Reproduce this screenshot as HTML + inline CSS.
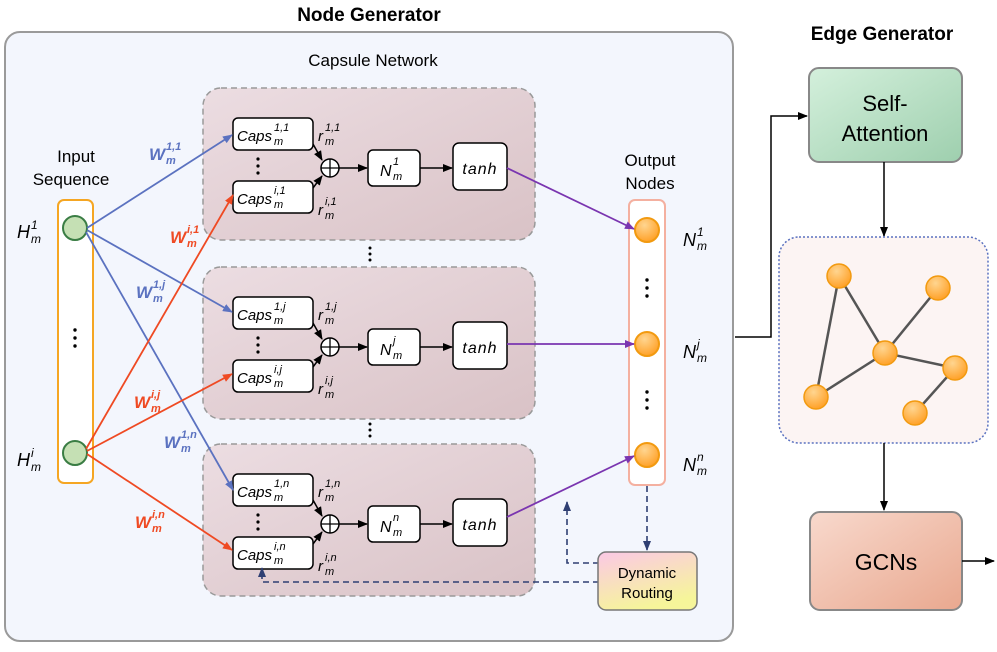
<!DOCTYPE html>
<html><head><meta charset="utf-8"><style>
body{margin:0;background:#fff}
svg text{font-family:"Liberation Sans",sans-serif}
.it{font-style:italic}
</style></head><body>
<svg width="997" height="647" viewBox="0 0 997 647" xmlns="http://www.w3.org/2000/svg">
<defs>
<linearGradient id="cg" x1="0" y1="0" x2="1" y2="1"><stop offset="0" stop-color="#ecdde2"/><stop offset="1" stop-color="#d9c2c6"/></linearGradient>
<linearGradient id="sa" x1="0" y1="0" x2="1" y2="1"><stop offset="0" stop-color="#d4f0dc"/><stop offset="1" stop-color="#9ecfae"/></linearGradient>
<linearGradient id="gc" x1="0" y1="0" x2="1" y2="1"><stop offset="0" stop-color="#f8d9cd"/><stop offset="1" stop-color="#e9a88f"/></linearGradient>
<linearGradient id="dr" x1="0" y1="0" x2="0.4" y2="1"><stop offset="0" stop-color="#fbc8e6"/><stop offset="1" stop-color="#f6f59a"/></linearGradient>
<radialGradient id="og" cx="0.4" cy="0.3" r="0.8"><stop offset="0" stop-color="#ffd590"/><stop offset="1" stop-color="#ff9a1a"/></radialGradient>
<marker id="ak" markerWidth="10" markerHeight="8" refX="9" refY="4" orient="auto" markerUnits="userSpaceOnUse"><path d="M0,0 L10,4 L0,8z" fill="#000"/></marker>
<marker id="ab" markerWidth="10" markerHeight="8" refX="9" refY="4" orient="auto" markerUnits="userSpaceOnUse"><path d="M0,0 L10,4 L0,8z" fill="#5b72c0"/></marker>
<marker id="ar" markerWidth="10" markerHeight="8" refX="9" refY="4" orient="auto" markerUnits="userSpaceOnUse"><path d="M0,0 L10,4 L0,8z" fill="#ef4a23"/></marker>
<marker id="ap" markerWidth="10" markerHeight="8" refX="9" refY="4" orient="auto" markerUnits="userSpaceOnUse"><path d="M0,0 L10,4 L0,8z" fill="#7a35b0"/></marker>
<marker id="ad" markerWidth="10" markerHeight="8" refX="9" refY="4" orient="auto" markerUnits="userSpaceOnUse"><path d="M0,0 L10,4 L0,8z" fill="#2f3f73"/></marker>
</defs>

<text x="369" y="21" font-size="19" font-weight="bold" text-anchor="middle">Node Generator</text>
<rect x="5" y="32" width="728" height="609" rx="15" fill="#f3f6fd" stroke="#9a9a9a" stroke-width="2"/>
<text x="373" y="66" font-size="17" text-anchor="middle">Capsule Network</text>

<g id="g1">
<rect x="203" y="88" width="332" height="152" rx="18" fill="url(#cg)" stroke="#999" stroke-width="1.5" stroke-dasharray="6,4"/>
<rect x="233" y="118" width="80" height="32" rx="5" fill="#fff" stroke="#000" stroke-width="1.5"/>
<rect x="233" y="181" width="80" height="32" rx="5" fill="#fff" stroke="#000" stroke-width="1.5"/>
<circle cx="258" cy="159" r="1.6"/><circle cx="258" cy="166" r="1.6"/><circle cx="258" cy="173" r="1.6"/>
<line x1="313" y1="144" x2="322" y2="160" stroke="#000" stroke-width="1.5" marker-end="url(#ak)"/>
<line x1="313" y1="188" x2="322" y2="176" stroke="#000" stroke-width="1.5" marker-end="url(#ak)"/>
<circle cx="330" cy="168" r="9" fill="#fff" stroke="#000" stroke-width="1.5"/>
<line x1="321" y1="168" x2="339" y2="168" stroke="#000" stroke-width="1.3"/><line x1="330" y1="159" x2="330" y2="177" stroke="#000" stroke-width="1.3"/>
<line x1="339" y1="168" x2="367" y2="168" stroke="#000" stroke-width="1.5" marker-end="url(#ak)"/>
<rect x="368" y="150" width="52" height="36" rx="5" fill="#fff" stroke="#000" stroke-width="1.5"/>
<line x1="420" y1="168" x2="452" y2="168" stroke="#000" stroke-width="1.5" marker-end="url(#ak)"/>
<rect x="453" y="143" width="54" height="47" rx="6" fill="#fff" stroke="#000" stroke-width="1.5"/>
<text x="480" y="174" font-size="16" class="it" text-anchor="middle" letter-spacing="1">tanh</text>
</g>
<use href="#g1" y="179"/>
<use href="#g1" y="356"/>

<g font-size="15" class="it">
<text x="237" y="141">Caps</text><text x="237" y="204">Caps</text>
<text x="237" y="320">Caps</text><text x="237" y="383">Caps</text>
<text x="237" y="497">Caps</text><text x="237" y="560">Caps</text>
<text x="380" y="176" font-size="16">N</text><text x="380" y="355" font-size="16">N</text><text x="380" y="532" font-size="16">N</text>
<text x="318" y="141">r</text><text x="318" y="215">r</text>
<text x="318" y="320">r</text><text x="318" y="394">r</text>
<text x="318" y="497">r</text><text x="318" y="571">r</text>
</g>
<g font-size="11" class="it">
<text x="274" y="131">1,1</text><text x="274" y="145">m</text>
<text x="274" y="194">i,1</text><text x="274" y="208">m</text>
<text x="274" y="310">1,j</text><text x="274" y="324">m</text>
<text x="274" y="373">i,j</text><text x="274" y="387">m</text>
<text x="274" y="487">1,n</text><text x="274" y="501">m</text>
<text x="274" y="550">i,n</text><text x="274" y="564">m</text>
<text x="393" y="165">1</text><text x="393" y="180">m</text>
<text x="393" y="344">j</text><text x="393" y="359">m</text>
<text x="393" y="521">n</text><text x="393" y="536">m</text>
<text x="325" y="131">1,1</text><text x="325" y="145">m</text>
<text x="325" y="205">i,1</text><text x="325" y="219">m</text>
<text x="325" y="310">1,j</text><text x="325" y="324">m</text>
<text x="325" y="384">i,j</text><text x="325" y="398">m</text>
<text x="325" y="487">1,n</text><text x="325" y="501">m</text>
<text x="325" y="561">i,n</text><text x="325" y="575">m</text>
</g>
<g fill="#000"><circle cx="370" cy="248" r="1.5"/><circle cx="370" cy="254" r="1.5"/><circle cx="370" cy="260" r="1.5"/>
<circle cx="370" cy="424" r="1.5"/><circle cx="370" cy="430" r="1.5"/><circle cx="370" cy="436" r="1.5"/></g>

<text x="76" y="162" font-size="17" text-anchor="middle">Input</text>
<text x="71" y="185" font-size="17" text-anchor="middle">Sequence</text>
<rect x="58" y="200" width="35" height="283" rx="6" fill="#fff" stroke="#f5a623" stroke-width="2"/>
<circle cx="75" cy="228" r="12" fill="#c5e0b4" stroke="#3a7d44" stroke-width="2"/>
<circle cx="75" cy="453" r="12" fill="#c5e0b4" stroke="#3a7d44" stroke-width="2"/>
<g fill="#000"><circle cx="75" cy="330" r="1.7"/><circle cx="75" cy="338" r="1.7"/><circle cx="75" cy="346" r="1.7"/></g>
<text x="17" y="238" font-size="18" class="it">H</text><text x="31" y="229" font-size="12" class="it">1</text><text x="31" y="243" font-size="12" class="it">m</text>
<text x="17" y="466" font-size="18" class="it">H</text><text x="31" y="457" font-size="12" class="it">i</text><text x="31" y="471" font-size="12" class="it">m</text>

<g stroke-width="1.8" fill="none">
<line x1="87" y1="228" x2="232" y2="135" stroke="#5b72c0" marker-end="url(#ab)"/>
<line x1="87" y1="230" x2="232" y2="312" stroke="#5b72c0" marker-end="url(#ab)"/>
<line x1="86" y1="232" x2="233" y2="490" stroke="#5b72c0" marker-end="url(#ab)"/>
<line x1="86" y1="449" x2="233" y2="195" stroke="#ef4a23" marker-end="url(#ar)"/>
<line x1="87" y1="451" x2="232" y2="374" stroke="#ef4a23" marker-end="url(#ar)"/>
<line x1="87" y1="454" x2="232" y2="550" stroke="#ef4a23" marker-end="url(#ar)"/>
</g>
<g font-weight="bold" class="it">
<text x="149" y="160" font-size="17" fill="#5b72c0">W</text><text x="166" y="150" font-size="11" fill="#5b72c0">1,1</text><text x="166" y="164" font-size="11" fill="#5b72c0">m</text>
<text x="170" y="243" font-size="17" fill="#ef4a23">W</text><text x="187" y="233" font-size="11" fill="#ef4a23">i,1</text><text x="187" y="247" font-size="11" fill="#ef4a23">m</text>
<text x="136" y="298" font-size="17" fill="#5b72c0">W</text><text x="153" y="288" font-size="11" fill="#5b72c0">1,j</text><text x="153" y="302" font-size="11" fill="#5b72c0">m</text>
<text x="134" y="408" font-size="17" fill="#ef4a23">W</text><text x="151" y="398" font-size="11" fill="#ef4a23">i,j</text><text x="151" y="412" font-size="11" fill="#ef4a23">m</text>
<text x="164" y="448" font-size="17" fill="#5b72c0">W</text><text x="181" y="438" font-size="11" fill="#5b72c0">1,n</text><text x="181" y="452" font-size="11" fill="#5b72c0">m</text>
<text x="135" y="528" font-size="17" fill="#ef4a23">W</text><text x="152" y="518" font-size="11" fill="#ef4a23">i,n</text><text x="152" y="532" font-size="11" fill="#ef4a23">m</text>
</g>

<text x="650" y="166" font-size="17" text-anchor="middle">Output</text>
<text x="650" y="189" font-size="17" text-anchor="middle">Nodes</text>
<rect x="629" y="200" width="36" height="285" rx="6" fill="#fff" stroke="#f4b0a0" stroke-width="2"/>
<g fill="url(#og)" stroke="#f29a10" stroke-width="2">
<circle cx="647" cy="230" r="12"/><circle cx="647" cy="344" r="12"/><circle cx="647" cy="455" r="12"/></g>
<g fill="#000"><circle cx="647" cy="280" r="1.7"/><circle cx="647" cy="288" r="1.7"/><circle cx="647" cy="296" r="1.7"/>
<circle cx="647" cy="392" r="1.7"/><circle cx="647" cy="400" r="1.7"/><circle cx="647" cy="408" r="1.7"/></g>
<g class="it"><text x="683" y="246" font-size="18">N</text><text x="697" y="236" font-size="12">1</text><text x="697" y="250" font-size="12">m</text>
<text x="683" y="358" font-size="18">N</text><text x="697" y="348" font-size="12">j</text><text x="697" y="362" font-size="12">m</text>
<text x="683" y="471" font-size="18">N</text><text x="697" y="461" font-size="12">n</text><text x="697" y="475" font-size="12">m</text></g>
<g stroke="#7a35b0" stroke-width="1.8">
<line x1="507" y1="168" x2="634" y2="229" marker-end="url(#ap)"/>
<line x1="507" y1="344" x2="634" y2="344" marker-end="url(#ap)"/>
<line x1="507" y1="517" x2="634" y2="456" marker-end="url(#ap)"/>
</g>
<g stroke="#2f3f73" stroke-width="1.6" stroke-dasharray="6,4" fill="none">
<line x1="647" y1="486" x2="647" y2="550" marker-end="url(#ad)"/>
<polyline points="599,563 567,563 567,502" marker-end="url(#ad)"/>
<polyline points="599,582 262,582 262,568" marker-end="url(#ad)"/>
</g>
<rect x="598" y="552" width="99" height="58" rx="8" fill="url(#dr)" stroke="#777" stroke-width="1.5"/>
<text x="647" y="578" font-size="15" text-anchor="middle">Dynamic</text>
<text x="647" y="598" font-size="15" text-anchor="middle">Routing</text>

<text x="882" y="40" font-size="19" font-weight="bold" text-anchor="middle">Edge Generator</text>
<polyline points="735,337 771,337 771,116 807,116" fill="none" stroke="#000" stroke-width="1.5" marker-end="url(#ak)"/>
<rect x="809" y="68" width="153" height="94" rx="10" fill="url(#sa)" stroke="#888" stroke-width="2"/>
<text x="885" y="111" font-size="22" text-anchor="middle">Self-</text>
<text x="885" y="141" font-size="22" text-anchor="middle">Attention</text>
<line x1="884" y1="162" x2="884" y2="236" stroke="#000" stroke-width="1.5" marker-end="url(#ak)"/>
<rect x="779" y="237" width="209" height="206" rx="20" fill="#fcf4f3" stroke="#5b72c0" stroke-width="1.5" stroke-dasharray="2,2"/>
<g stroke="#555" stroke-width="2.5">
<line x1="839" y1="276" x2="885" y2="353"/><line x1="839" y1="276" x2="816" y2="397"/>
<line x1="816" y1="397" x2="885" y2="353"/><line x1="885" y1="353" x2="938" y2="288"/>
<line x1="885" y1="353" x2="955" y2="368"/><line x1="955" y1="368" x2="915" y2="413"/></g>
<g fill="url(#og)" stroke="#f29a10" stroke-width="1.5">
<circle cx="839" cy="276" r="12"/><circle cx="938" cy="288" r="12"/><circle cx="885" cy="353" r="12"/>
<circle cx="955" cy="368" r="12"/><circle cx="816" cy="397" r="12"/><circle cx="915" cy="413" r="12"/></g>
<line x1="884" y1="443" x2="884" y2="510" stroke="#000" stroke-width="1.5" marker-end="url(#ak)"/>
<rect x="810" y="512" width="152" height="98" rx="10" fill="url(#gc)" stroke="#888" stroke-width="2"/>
<text x="886" y="570" font-size="23" text-anchor="middle">GCNs</text>
<line x1="962" y1="561" x2="994" y2="561" stroke="#000" stroke-width="1.5" marker-end="url(#ak)"/>
</svg>
</body></html>
